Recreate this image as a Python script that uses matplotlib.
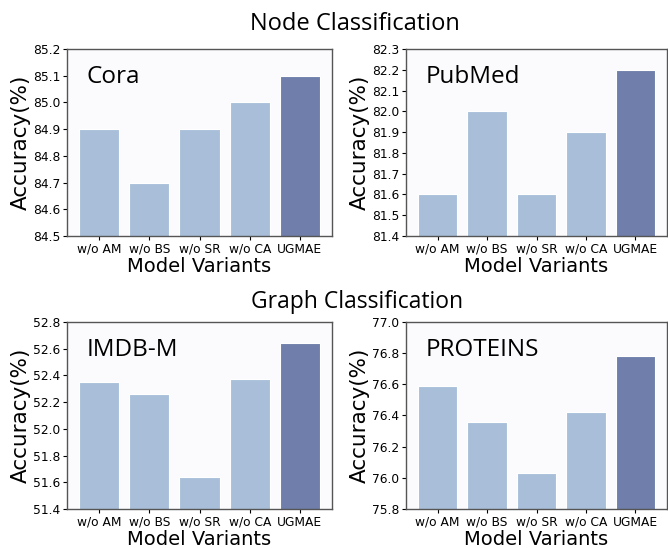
import matplotlib
matplotlib.use("Agg")
import matplotlib.pyplot as plt

variants = ["w/o AM", "w/o BS", "w/o SR", "w/o CA", "UGMAE"]

cora = [84.9, 84.7, 84.9, 85.0, 85.1]
pubmed = [81.6, 82.0, 81.6, 81.9, 82.2]
imdbm = [52.35, 52.26, 51.64, 52.37, 52.64]
proteins = [76.59, 76.36, 76.03, 76.42, 76.78]

panels = [
    ("Cora", cora, (84.5, 85.2), [84.5, 84.6, 84.7, 84.8, 84.9, 85.0, 85.1, 85.2]),
    ("PubMed", pubmed, (81.4, 82.3), [81.4, 81.5, 81.6, 81.7, 81.8, 81.9, 82.0, 82.1, 82.2, 82.3]),
    ("IMDB-M", imdbm, (51.4, 52.8), [51.4, 51.6, 51.8, 52.0, 52.2, 52.4, 52.6, 52.8]),
    ("PROTEINS", proteins, (75.8, 77.0), [75.8, 76.0, 76.2, 76.4, 76.6, 76.8, 77.0]),
]

W, H = 668, 548
fig = plt.figure(figsize=(W / 100, H / 100), dpi=100)

boxes = [
    (67, 332, 49, 236),
    (406, 667, 49, 236),
    (67, 332, 322, 509),
    (406, 667, 322, 509),
]

light = "#a9bfd9"
dark = "#6f7eaa"

for (name, vals, ylim, yt), (l, r, t, b) in zip(panels, boxes):
    ax = fig.add_axes([l / W, 1 - b / H, (r - l) / W, (b - t) / H])
    ax.set_facecolor("#fbfbfd")
    colors = [light] * 4 + [dark]
    ax.bar(range(len(variants)), vals, width=0.8, color=colors,
           edgecolor="white", linewidth=0.8)
    ax.set_ylim(*ylim)
    ax.set_yticks(yt)
    ax.set_yticklabels([f"{v:.1f}" for v in yt])
    ax.set_xticks(range(len(variants)))
    ax.set_xticklabels(variants)
    ax.set_xlim(-0.64, 4.64)
    ax.tick_params(labelsize=8.8, length=3, width=0.8, pad=2, colors="black")
    for s in ax.spines.values():
        s.set_color("#555555")
        s.set_linewidth(1.0)
    ax.set_xlabel("Model Variants", fontsize=14, labelpad=1)
    ax.set_ylabel("Accuracy(%)", fontsize=15.5, labelpad=1)
    ax.text(0.075, 0.82, name, transform=ax.transAxes, fontsize=17.5,
            family="Open Sans", ha="left", va="baseline", color="black")

fig.text(355 / W, 1 - 30 / H, "Node Classification", fontsize=17,
         family="Open Sans", ha="center", va="baseline")
fig.text(357 / W, 1 - 308 / H, "Graph Classification", fontsize=16.5,
         family="Open Sans", ha="center", va="baseline")

fig.savefig("out.png", dpi=100)
